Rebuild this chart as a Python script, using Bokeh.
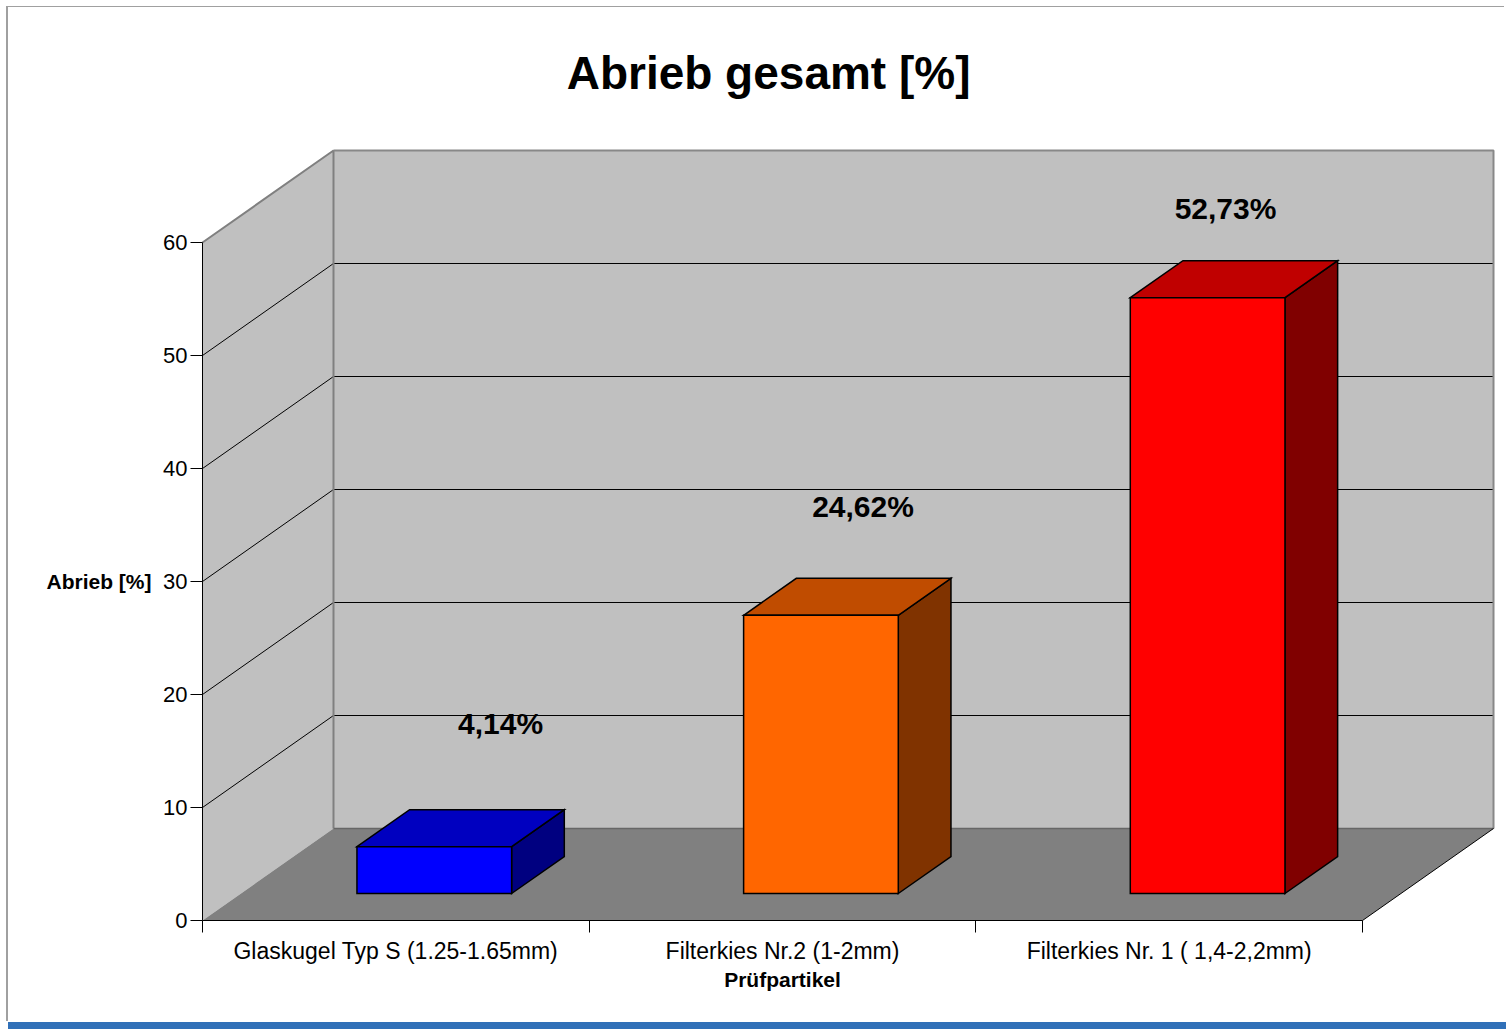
from bokeh.plotting import figure
from bokeh.models import ColumnDataSource, Range1d, FixedTicker
from bokeh.embed import file_html
from bokeh.resources import INLINE
from bokeh.core.properties import value

# ---------------- data ----------------
categories = ["Glaskugel Typ S (1.25-1.65mm)", "Filterkies Nr.2 (1-2mm)", "Filterkies Nr. 1 ( 1,4-2,2mm)"]
abrieb = [4.14, 24.62, 52.73]
front_colors = ["#0000FF", "#FF6600", "#FF0000"]
top_colors = ["#0000C0", "#C04C00", "#C00000"]
side_colors = ["#000080", "#803300", "#800000"]
y_ticks = [0, 10, 20, 30, 40, 50, 60]
title_text = "Abrieb gesamt [%]"
y_label = "Abrieb [%]"
x_label = "Prüfpartikel"

# ---------------- layout constants ----------------
OX, OY = 8, 7              # where the figure sits on the page
W, H = 1506 - OX, 1022 - OY
AX_X, AX_Y = 202 - OX, 920 - OY   # canvas position of the value/category origin
PX_X = 386.67          # pixels per category
PX_Y = 11.3            # pixels per value unit
DX = 131 / PX_X        # depth of the 3D box (data units)
DY = 92 / PX_Y
F1, F2 = 27 / 92, 64 / 92   # bar front/back depth fractions
BAR_W = 0.4
FONT = value("Liberation Sans")
n = len(categories)
vmax = y_ticks[-1]

p = figure(width=W, height=H, output_backend="svg", toolbar_location=None, title=None,
           x_range=Range1d(-AX_X / PX_X, (W - AX_X) / PX_X),
           y_range=Range1d(-(H - AX_Y) / PX_Y, AX_Y / PX_Y),
           min_border_left=0, min_border_bottom=0, min_border_top=0, min_border_right=0,
           background_fill_color="white", border_fill_color="white", outline_line_color=None)
p.styles = {"margin-left": "%dpx" % OX, "margin-top": "%dpx" % OY,
            "box-shadow": "-2px -1px 0 0 #a0a0a0, 0 8px 0 0 #3070B8"}
p.xgrid.visible = False
p.ygrid.visible = False

# ---------------- walls & floor ----------------
p.patch([0, 0, DX, DX], [0, vmax, vmax + DY, DY], fill_color="#C0C0C0", line_color=None)
p.patch([DX, DX, n + DX, n + DX], [DY, vmax + DY, vmax + DY, DY], fill_color="#C0C0C0", line_color=None)
grid_xs = [[0, DX, n + DX] for v in y_ticks[1:-1]]
grid_ys = [[v, v + DY, v + DY] for v in y_ticks[1:-1]]
p.multi_line(grid_xs, grid_ys, line_color="black", line_width=1)
p.line([0, DX, DX], [vmax, vmax + DY, DY], line_color="#808080", line_width=2)
p.line([DX, n + DX, n + DX], [vmax + DY, vmax + DY, DY], line_color="#888888", line_width=2)
p.patch([0, n, n + DX, DX], [0, 0, DY, DY], fill_color="#808080", line_color=None)
p.line([DX, n + DX], [DY, DY], line_color="#666666", line_width=1.5)
p.line([n, n + DX], [0, DY], line_color="black", line_width=1)

# ---------------- bars ----------------
side_xs, side_ys, top_xs, top_ys, front_xs, front_ys = [], [], [], [], [], []
for i, v in enumerate(abrieb):
    x0 = i + 0.5 - BAR_W / 2
    x1 = i + 0.5 + BAR_W / 2
    a, b = F1 * DX, F1 * DY
    c, d = F2 * DX, F2 * DY
    front_xs.append([x0 + a, x1 + a, x1 + a, x0 + a])
    front_ys.append([b, b, v + b, v + b])
    top_xs.append([x0 + a, x0 + c, x1 + c, x1 + a])
    top_ys.append([v + b, v + d, v + d, v + b])
    side_xs.append([x1 + a, x1 + c, x1 + c, x1 + a])
    side_ys.append([b, d, v + d, v + b])

bars = ColumnDataSource(dict(side_xs=side_xs, side_ys=side_ys, top_xs=top_xs, top_ys=top_ys,
                             front_xs=front_xs, front_ys=front_ys,
                             front=front_colors, top=top_colors, side=side_colors))
for k in ["side", "top", "front"]:
    p.patches(k + "_xs", k + "_ys", source=bars, fill_color=k, line_color="black",
              line_width=1.5, line_join="miter")

# ---------------- value labels ----------------
LS, LDX, LDY = 0.9375, 0.302, 13.55
lab = ColumnDataSource(dict(
    x=[LS * (i + 0.5) + LDX for i in range(n)],
    y=[LS * v + LDY for v in abrieb],
    t=[("%.2f" % v).replace(".", ",") + "%" for v in abrieb]))
p.text("x", "y", text="t", source=lab, text_font=FONT, text_font_style="bold",
       text_font_size="30px", text_align="center", text_baseline="middle", text_color="black")

# ---------------- title & axis titles ----------------
p.text(x=[1.464], y=[(920 - 72) / PX_Y], text=[title_text], text_font=FONT, text_font_style="bold",
       text_font_size="46px", text_align="center", text_baseline="middle", text_color="black")
p.text(x=[-156 / PX_X], y=[y_ticks[3]], text=[y_label], text_font=FONT, text_font_style="bold",
       text_font_size="21px", text_align="left", text_baseline="middle", text_color="black")
p.text(x=[n / 2], y=[-59 / PX_Y], text=[x_label], text_font=FONT, text_font_style="bold",
       text_font_size="21px", text_align="center", text_baseline="middle", text_color="black")

# ---------------- axes (fixed at the data origin) ----------------
ya = p.yaxis[0]
ya.fixed_location = 0
ya.ticker = FixedTicker(ticks=y_ticks)
ya.bounds = (0, vmax)
ya.axis_line_color = "black"
ya.major_tick_line_color = "black"
ya.major_tick_out = 12
ya.major_tick_in = 0
ya.minor_tick_line_color = None
ya.major_label_standoff = 3
ya.major_label_text_font = "Liberation Sans"
ya.major_label_text_font_size = "22px"
ya.major_label_text_color = "black"

xa = p.xaxis[0]
xa.fixed_location = 0
xa.ticker = FixedTicker(ticks=[i + 0.5 for i in range(n)], minor_ticks=list(range(n + 1)))
xa.major_label_overrides = {i + 0.5: c for i, c in enumerate(categories)}
xa.bounds = (0, n)
xa.axis_line_color = "black"
xa.major_tick_line_color = None
xa.major_tick_out = 0
xa.major_tick_in = 0
xa.minor_tick_line_color = "black"
xa.minor_tick_out = 12
xa.minor_tick_in = 0
xa.major_label_standoff = 5
xa.major_label_text_font = "Liberation Sans"
xa.major_label_text_font_size = "23px"
xa.major_label_text_color = "black"

open("out.html", "w").write(file_html(p, INLINE))
